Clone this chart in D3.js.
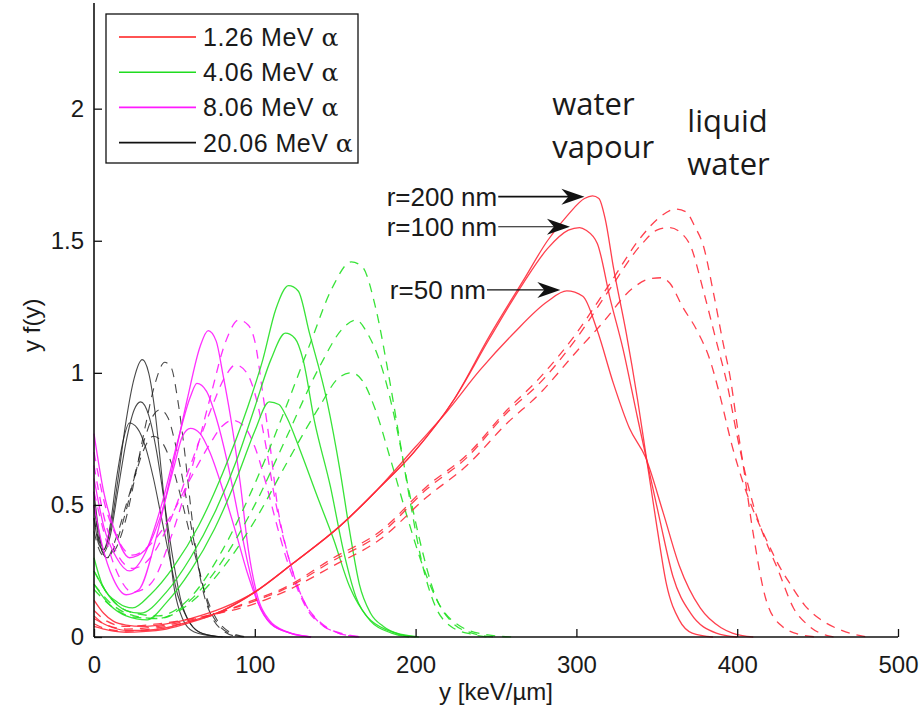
<!DOCTYPE html>
<html>
<head>
<meta charset="utf-8">
<script src="https://cdn.jsdelivr.net/npm/d3@7"></script>
<style>
body { margin: 0; background: #fff; }
text { font-family: "Liberation Sans", Arial, sans-serif; fill: #1a1a1a; }
</style>
</head>
<body>
<div id="chart"></div>
<script>
// ---- values: [y (keV/um), y f(y)] ----
const xTicks = [0, 100, 200, 300, 400, 500];
const yTicks = [0, 0.5, 1, 1.5, 2];
const legendLabels = ["1.26 MeV", "4.06 MeV", "8.06 MeV", "20.06 MeV"];

// 1.26 MeV, water vapour (solid)
const red_vap_50 = [[0,0.14],[6,0.09],[12,0.06],[20,0.045],[30,0.04],[45,0.05],[60,0.07],[80,0.11],[100,0.17],[124,0.28],[153,0.42],[175,0.55],[200,0.72],[219,0.85],[240,1.01],[261,1.15],[282,1.27],[294,1.31],[304,1.29],[313,1.16],[323,0.96],[333,0.79],[343,0.68],[354,0.47],[364,0.27],[377,0.11],[390,0.035],[397,0.015],[410,0]];
const red_vap_100 = [[0,0.08],[6,0.05],[12,0.035],[20,0.025],[30,0.025],[45,0.035],[60,0.06],[80,0.1],[100,0.17],[124,0.28],[153,0.42],[175,0.55],[199,0.70],[224,0.90],[246,1.13],[267,1.34],[282,1.47],[295,1.54],[302,1.55],[306,1.54],[313,1.49],[321,1.28],[329,1.09],[338,0.83],[343,0.69],[352,0.44],[360,0.23],[371,0.09],[387,0.015],[400,0]];
const red_vap_200 = [[0,0.04],[6,0.03],[12,0.022],[20,0.018],[30,0.02],[45,0.03],[60,0.055],[80,0.1],[100,0.17],[124,0.28],[153,0.42],[175,0.55],[199,0.70],[224,0.90],[246,1.14],[267,1.35],[282,1.50],[295,1.60],[305,1.66],[310,1.67],[314,1.66],[318,1.58],[323,1.40],[331,1.15],[338,0.90],[343,0.70],[350,0.42],[356,0.2],[364,0.064],[372,0.015],[385,0]];
// 1.26 MeV, liquid water (dashed)
const red_liq_50 = [[0,0.1],[8,0.06],[20,0.04],[40,0.05],[70,0.08],[97,0.12],[118,0.17],[149,0.27],[178,0.37],[207,0.53],[232,0.65],[257,0.81],[277,0.92],[300,1.08],[315,1.18],[335,1.32],[345,1.355],[353,1.36],[358,1.34],[366,1.25],[375,1.16],[383,1.05],[389,0.92],[397,0.72],[405,0.56],[412,0.45],[418,0.37],[426,0.27],[433,0.2],[442,0.12],[451,0.07],[465,0.025],[481,0]];
const red_liq_100 = [[0,0.07],[8,0.045],[20,0.03],[40,0.04],[70,0.08],[97,0.13],[118,0.18],[149,0.29],[178,0.39],[207,0.56],[232,0.68],[257,0.85],[277,0.96],[300,1.13],[320,1.31],[341,1.49],[350,1.54],[358,1.55],[365,1.53],[371,1.48],[379,1.31],[387,1.12],[394,0.95],[400,0.76],[405,0.62],[410,0.5],[418,0.36],[425,0.26],[435,0.11],[445,0.04],[460,0]];
const red_liq_200 = [[0,0.05],[8,0.03],[20,0.022],[40,0.035],[70,0.075],[97,0.135],[118,0.185],[149,0.30],[178,0.40],[207,0.57],[232,0.69],[257,0.86],[277,0.98],[300,1.15],[320,1.33],[341,1.52],[352,1.59],[362,1.62],[368,1.61],[374,1.55],[379,1.48],[385,1.31],[391,1.12],[396,0.97],[400,0.80],[404,0.64],[410,0.39],[418,0.14],[428,0.04],[440,0.008],[450,0]];

// 4.06 MeV
const green_vap_1 = [[0,0.30],[5,0.2],[15,0.13],[24,0.11],[35,0.16],[50,0.27],[65,0.42],[80,0.62],[95,0.86],[105,1.05],[113,1.24],[121,1.33],[127,1.31],[134,1.15],[145,0.89],[153,0.63],[159,0.40],[165,0.20],[172,0.09],[180,0.04],[190,0.01],[200,0]];
const green_vap_2 = [[0,0.25],[10,0.15],[20,0.10],[29,0.09],[45,0.17],[60,0.30],[75,0.47],[90,0.69],[100,0.87],[110,1.05],[119,1.15],[125,1.13],[130,1.05],[137,0.82],[147,0.57],[155,0.33],[163,0.15],[172,0.06],[185,0.015],[196,0]];
const green_vap_3 = [[0,0.2],[10,0.12],[20,0.08],[33,0.065],[45,0.13],[60,0.25],[75,0.41],[90,0.62],[100,0.78],[109,0.89],[115,0.88],[120,0.83],[128,0.71],[139,0.53],[149,0.37],[159,0.19],[170,0.076],[182,0.027],[202,0]];
const green_liq_1 = [[0,0.25],[10,0.15],[25,0.09],[40,0.08],[60,0.15],[80,0.33],[100,0.58],[120,0.88],[135,1.12],[148,1.32],[160,1.42],[167,1.40],[175,1.25],[183,1.0],[190,0.75],[197,0.5],[204,0.28],[212,0.12],[222,0.04],[235,0.01],[245,0]];
const green_liq_2 = [[0,0.2],[10,0.13],[25,0.08],[40,0.07],[60,0.14],[80,0.29],[100,0.5],[120,0.76],[140,1.02],[155,1.17],[163,1.2],[170,1.15],[180,1.0],[188,0.8],[196,0.55],[204,0.33],[212,0.16],[222,0.06],[235,0.015],[250,0]];
const green_liq_3 = [[0,0.18],[10,0.12],[25,0.075],[40,0.07],[60,0.13],[80,0.26],[100,0.44],[120,0.66],[140,0.87],[152,0.98],[160,1.0],[167,0.97],[175,0.86],[185,0.66],[195,0.45],[205,0.26],[215,0.12],[228,0.04],[245,0.008],[260,0]];

// 8.06 MeV
const mag_vap_1 = [[0,0.5],[5,0.35],[12,0.22],[20,0.16],[28,0.18],[38,0.36],[48,0.62],[58,0.9],[66,1.1],[71,1.16],[76,1.12],[80,1.0],[85,0.83],[91,0.58],[96,0.33],[101,0.17],[109,0.064],[120,0.02],[135,0]];
const mag_vap_2 = [[0,0.6],[6,0.42],[14,0.3],[22,0.25],[32,0.32],[42,0.5],[52,0.74],[60,0.91],[64,0.96],[70,0.93],[76,0.83],[83,0.66],[90,0.45],[96,0.27],[102,0.13],[110,0.05],[122,0.015],[135,0]];
const mag_vap_3 = [[0,0.77],[6,0.55],[13,0.4],[22,0.3],[32,0.33],[42,0.47],[50,0.65],[55,0.76],[60,0.79],[66,0.77],[72,0.7],[80,0.56],[88,0.4],[95,0.25],[102,0.13],[110,0.05],[122,0.015],[135,0]];
const mag_liq_1 = [[0,0.55],[6,0.4],[14,0.25],[24,0.17],[35,0.2],[48,0.38],[60,0.62],[72,0.9],[82,1.12],[90,1.2],[96,1.18],[100,1.12],[105,0.92],[110,0.7],[114,0.5],[119,0.35],[125,0.22],[131,0.13],[140,0.055],[152,0.015],[165,0]];
const mag_liq_2 = [[0,0.65],[6,0.46],[14,0.32],[24,0.26],[35,0.3],[48,0.45],[60,0.65],[72,0.85],[82,0.99],[88,1.03],[95,1.0],[101,0.9],[107,0.72],[112,0.54],[118,0.37],[124,0.24],[131,0.13],[140,0.06],[152,0.015],[165,0]];
const mag_liq_3 = [[0,0.7],[6,0.52],[14,0.38],[24,0.31],[35,0.35],[48,0.46],[60,0.6],[72,0.73],[80,0.8],[86,0.82],[93,0.8],[100,0.72],[107,0.58],[113,0.44],[119,0.31],[126,0.19],[133,0.1],[142,0.045],[155,0.012],[168,0]];

// 20.06 MeV
const black_vap_1 = [[0,0.55],[3,0.4],[6,0.33],[10,0.4],[15,0.6],[20,0.82],[25,0.98],[30,1.05],[34,1.0],[38,0.85],[42,0.62],[46,0.38],[50,0.18],[55,0.07],[62,0.02],[75,0.003],[85,0]];
const black_vap_2 = [[0,0.5],[3,0.37],[6,0.32],[10,0.38],[15,0.56],[20,0.74],[25,0.86],[29,0.89],[34,0.84],[39,0.7],[44,0.5],[49,0.3],[54,0.14],[60,0.05],[68,0.012],[80,0]];
const black_vap_3 = [[0,0.45],[3,0.35],[6,0.33],[10,0.42],[14,0.6],[18,0.74],[22,0.81],[27,0.79],[32,0.72],[37,0.6],[42,0.45],[47,0.3],[52,0.16],[58,0.07],[65,0.02],[78,0]];
const black_liq_1 = [[0,0.5],[4,0.36],[8,0.3],[14,0.34],[20,0.45],[26,0.62],[32,0.8],[38,0.96],[44,1.04],[48,1.02],[52,0.9],[56,0.72],[60,0.5],[64,0.3],[68,0.17],[73,0.08],[80,0.025],[90,0]];
const black_liq_2 = [[0,0.45],[4,0.34],[8,0.3],[14,0.36],[20,0.48],[26,0.63],[32,0.76],[37,0.84],[41,0.86],[46,0.83],[51,0.72],[56,0.57],[61,0.4],[66,0.24],[71,0.12],[77,0.05],[85,0.012],[93,0]];
const black_liq_3 = [[0,0.4],[4,0.32],[8,0.3],[14,0.38],[20,0.5],[26,0.62],[31,0.71],[37,0.76],[42,0.74],[48,0.66],[54,0.53],[60,0.38],[65,0.26],[70,0.15],[76,0.07],[84,0.02],[95,0]];

// arrow annotations: label, label start (y), arrow tip [y, yf(y)]
const arrowLabels = ["r=200 nm", "r=100 nm", "r=50 nm"];
const arrowLabelX = [182, 182, 184];
const arrowTips = [[305, 1.667], [296, 1.553], [290, 1.314]];

// Dimensions
const margin = { top: 3, right: 26, bottom: 70, left: 94 },
  width = 924 - margin.left - margin.right,
  height = 707 - margin.top - margin.bottom;

const colors = ["#ff2a3a", "#22e022", "#ff1aff", "#1a1a1a"];
const legendColors = ["#ff1a1a", "#1fdc1f", "#ff1aff", "#111"];

const svg = d3.select("#chart")
  .append("svg")
  .attr("width", 924)
  .attr("height", 707)
  .append("g")
  .attr("transform", `translate(${margin.left},${margin.top})`);

const x = d3.scaleLinear().domain([0, 500]).range([0, width]);
const y = d3.scaleLinear().domain([0, 2.4]).range([height, 0]);

const line = d3.line()
  .x(d => x(d[0]))
  .y(d => y(d[1]))
  .curve(d3.curveMonotoneX);

// curves, drawn black first and red last
const curves = [
  { data: black_vap_1, c: 3, dash: false }, { data: black_vap_2, c: 3, dash: false }, { data: black_vap_3, c: 3, dash: false },
  { data: black_liq_1, c: 3, dash: true }, { data: black_liq_2, c: 3, dash: true }, { data: black_liq_3, c: 3, dash: true },
  { data: mag_vap_1, c: 2, dash: false }, { data: mag_vap_2, c: 2, dash: false }, { data: mag_vap_3, c: 2, dash: false },
  { data: mag_liq_1, c: 2, dash: true }, { data: mag_liq_2, c: 2, dash: true }, { data: mag_liq_3, c: 2, dash: true },
  { data: green_vap_1, c: 1, dash: false }, { data: green_vap_2, c: 1, dash: false }, { data: green_vap_3, c: 1, dash: false },
  { data: green_liq_1, c: 1, dash: true }, { data: green_liq_2, c: 1, dash: true }, { data: green_liq_3, c: 1, dash: true },
  { data: red_liq_50, c: 0, dash: true }, { data: red_liq_100, c: 0, dash: true }, { data: red_liq_200, c: 0, dash: true },
  { data: red_vap_50, c: 0, dash: false }, { data: red_vap_100, c: 0, dash: false }, { data: red_vap_200, c: 0, dash: false }
];

svg.selectAll(".curve")
  .data(curves)
  .enter().append("path")
  .attr("class", "curve")
  .attr("d", d => line(d.data))
  .attr("fill", "none")
  .attr("stroke", d => colors[d.c])
  .attr("stroke-width", d => d.c === 3 ? 1.1 : 1.3)
  .attr("stroke-opacity", d => d.c === 3 ? 0.8 : 0.9)
  .attr("stroke-dasharray", d => d.dash ? "9,7" : null);

// axes with inward ticks (MATLAB look), no box
const xAxis = d3.axisBottom(x).tickValues(xTicks).tickSize(-8).tickPadding(19).tickFormat(d3.format("d"));
const yAxis = d3.axisLeft(y).tickValues(yTicks).tickSize(-8).tickPadding(10).tickFormat(d => d);

const gx = svg.append("g")
  .attr("transform", `translate(0,${height})`)
  .call(xAxis);
const gy = svg.append("g").call(yAxis);

[gx, gy].forEach(g => {
  g.select(".domain").attr("stroke", "#111").attr("stroke-width", 1.6);
  g.selectAll(".tick line").attr("stroke", "#111").attr("stroke-width", 1.3);
  g.selectAll(".tick text").style("font-size", "24px").attr("fill", "#1a1a1a");
});
gy.select(".domain").attr("d", `M0,${height}V0`);
gx.select(".domain").attr("d", `M0,0H${width}`);

svg.append("text")
  .attr("x", x(250))
  .attr("y", height + 63)
  .attr("text-anchor", "middle")
  .style("font-size", "24px")
  .text("y [keV/\u00b5m]");

svg.append("text")
  .attr("transform", `translate(${40 - margin.left},${y(1.18)}) rotate(-90)`)
  .attr("text-anchor", "middle")
  .style("font-size", "24px")
  .text("y f(y)");

// legend
const legend = svg.append("g").attr("transform", `translate(${106 - margin.left},${14 - margin.top})`);
legend.append("rect")
  .attr("width", 252).attr("height", 149)
  .attr("fill", "#fff").attr("stroke", "#111").attr("stroke-width", 1.3);
legendLabels.forEach((lab, i) => {
  const ly = 23 + i * 35.2;
  legend.append("line")
    .attr("x1", 13).attr("x2", 90).attr("y1", ly).attr("y2", ly)
    .attr("stroke", legendColors[i]).attr("stroke-width", 1.6);
  const t = legend.append("text")
    .attr("x", 97).attr("y", ly + 9)
    .style("font-size", "25px")
    .style("letter-spacing", "0.5px");
  t.append("tspan").text(lab + " ");
  t.append("tspan").style("font-family", "'DejaVu Serif', serif").text("\u03b1");
});

// arrow annotations
arrowLabels.forEach((lab, i) => {
  const tip = arrowTips[i];
  const ty = y(tip[1]);
  const t = svg.append("text")
    .attr("x", x(arrowLabelX[i]))
    .attr("y", ty + 9)
    .style("font-size", "26px")
    .text(lab);
  const x0 = x(arrowLabelX[i]) + t.node().getComputedTextLength() + 1;
  const x1 = x(tip[0]);
  svg.append("line")
    .attr("x1", x0).attr("x2", x1 - 14)
    .attr("y1", ty).attr("y2", ty)
    .attr("stroke", "#111").attr("stroke-width", i === 0 ? 1.8 : 1.2);
  svg.append("path")
    .attr("d", `M${x1},${ty} L${x1 - 23},${ty - 8} L${x1 - 16},${ty} L${x1 - 23},${ty + 8} Z`)
    .attr("fill", "#111");
});

// medium labels
const medium = [
  { lines: ["water", "vapour"], at: [285, 1.977] },
  { lines: ["liquid", "water"], at: [369, 1.912] }
];
medium.forEach(m => {
  const t = svg.append("text")
    .attr("x", x(m.at[0]))
    .attr("y", y(m.at[1]))
    .style("font-family", "'Open Sans', 'Noto Sans', sans-serif")
    .style("font-size", "31px")
    .attr("fill", "#000");
  m.lines.forEach((l, k) => {
    t.append("tspan").attr("x", x(m.at[0])).attr("dy", k === 0 ? 0 : 43).text(l);
  });
});
</script>
</body>
</html>
